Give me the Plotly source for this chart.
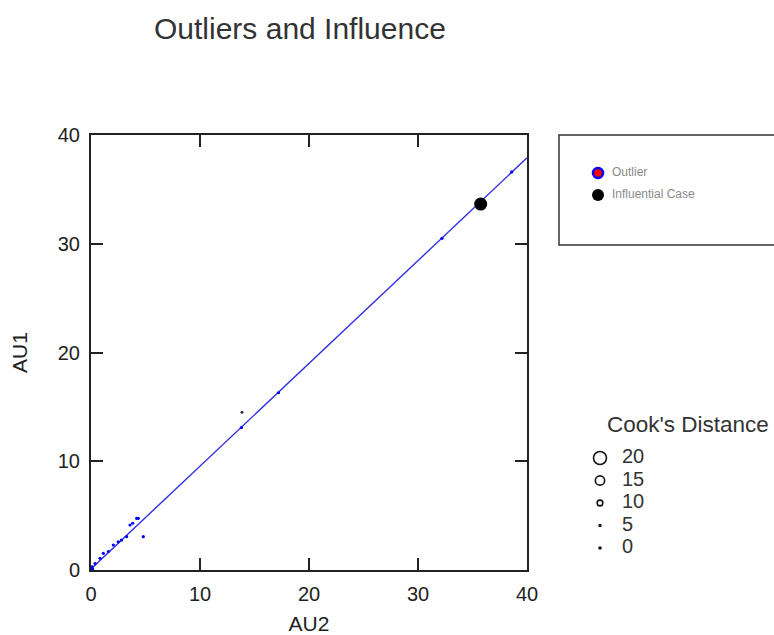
import plotly.graph_objects as go

W, H = 774, 635

# ---- data ----
au2 = [0.05, 0.1, 0.15, 0.37, 0.83, 1.13, 1.6, 2.05, 2.5, 2.8, 3.27, 3.58, 3.82, 4.19, 4.34, 4.8,
       13.8, 17.2, 32.2, 38.6]
au1 = [0.15, 0.3, 0.1, 0.6, 1.07, 1.53, 1.7, 2.3, 2.6, 2.75, 3.06, 4.14, 4.3, 4.75, 4.75, 3.06,
       13.1, 16.3, 30.5, 36.6]
cooks = [0.5, 0.3, 0.2, 0.2, 0.3, 0.2, 0.2, 0.3, 0.2, 0.2, 0.2, 0.5, 0.5, 0.8, 0.8, 1.0,
         0.1, 0.1, 0.1, 0.1]

other_x = [13.85]
other_y = [14.5]
other_cooks = [1.0]

influential_x = [35.75]
influential_y = [33.65]
influential_cooks = [20]

fit_intercept = 0.1
fit_slope = 0.945
fit_x = [0, 40]

key_values = [20, 15, 10, 5, 0]
key_labels = ["20", "15", "10", "5", "0"]
legend_labels = ["Outlier", "Influential Case"]

axis_ticks = [0, 10, 20, 30, 40]


def size_px(c, floor=2.0):
    return max(floor, 2.0 + (c - 5) * 11.0 / 15.0)


fit_y = [fit_intercept + fit_slope * v for v in fit_x]

# ---- layout geometry (pixels) ----
PL, PR, PT, PB = 91, 527, 135, 570


def px_x(p):
    return p / W


def px_y(p):
    return (H - p) / H


fig = go.Figure()

fig.add_trace(go.Scatter(x=fit_x, y=fit_y, mode="lines",
                         line=dict(color="#3030e0", width=1.4), showlegend=False,
                         hoverinfo="skip"))
fig.add_trace(go.Scatter(x=au2, y=au1, mode="markers",
                         marker=dict(color="#0000ff", opacity=1,
                                     size=[size_px(c, 3.2) for c in cooks],
                                     line=dict(width=0)),
                         showlegend=False))
fig.add_trace(go.Scatter(x=other_x, y=other_y, mode="markers",
                         marker=dict(color="#333333", opacity=1,
                                     size=[size_px(c, 3.0) for c in other_cooks],
                                     line=dict(width=0)),
                         showlegend=False))
fig.add_trace(go.Scatter(x=influential_x, y=influential_y, mode="markers",
                         marker=dict(color="#000000", opacity=1,
                                     size=[size_px(c) for c in influential_cooks],
                                     line=dict(width=0)),
                         showlegend=False))

# Cook's distance key (axis 2: y in Cook's distance units)
fig.add_trace(go.Scatter(x=[15] * len(key_values), y=key_values, mode="markers",
                         marker=dict(symbol="circle-open", color="#111111", opacity=1,
                                     size=[size_px(v) for v in key_values],
                                     line=dict(width=1.6, color="#111111")),
                         xaxis="x2", yaxis="y2", showlegend=False, hoverinfo="skip"))
fig.add_trace(go.Scatter(x=[37] * len(key_values), y=key_values, mode="text",
                         text=key_labels, textposition="middle right",
                         textfont=dict(family="Liberation Sans, Arial", size=20, color="#333333"),
                         xaxis="x2", yaxis="y2", showlegend=False, hoverinfo="skip"))

# Outlier / influential legend (axis 3: categorical)
fig.add_trace(go.Scatter(x=[13], y=[legend_labels[0]], mode="markers",
                         marker=dict(color="#ff0000", size=10, opacity=1,
                                     line=dict(color="#0000ff", width=2.5)),
                         xaxis="x3", yaxis="y3", showlegend=False, hoverinfo="skip"))
fig.add_trace(go.Scatter(x=[13], y=[legend_labels[1]], mode="markers",
                         marker=dict(color="#000000", size=12, opacity=1, line=dict(width=0)),
                         xaxis="x3", yaxis="y3", showlegend=False, hoverinfo="skip"))
fig.add_trace(go.Scatter(x=[27, 27], y=legend_labels, mode="text",
                         text=legend_labels, textposition="middle right",
                         textfont=dict(family="Liberation Sans, Arial", size=12, color="#8a8a8a"),
                         xaxis="x3", yaxis="y3", showlegend=False, hoverinfo="skip"))

font_main = "Liberation Sans, Arial, sans-serif"
axis_common = dict(range=[0, 40], tickvals=axis_ticks, ticks="inside", ticklen=12,
                   tickwidth=2, tickcolor="#222222", showline=True, linecolor="#222222",
                   linewidth=2, mirror="ticks", showgrid=False, zeroline=False,
                   tickfont=dict(size=20, color="#222222", family=font_main),
                   automargin=False)

fig.update_layout(
    width=W, height=H,
    margin=dict(l=0, r=0, t=0, b=0),
    paper_bgcolor="white", plot_bgcolor="white",
    font=dict(family=font_main, color="#222222"),
    showlegend=False,
    xaxis=dict(domain=[px_x(PL), px_x(PR)], anchor="y", ticklabelstandoff=5,
               title=dict(text="AU2", font=dict(size=21, color="#222222"), standoff=14),
               **axis_common),
    yaxis=dict(domain=[px_y(PB), px_y(PT)], anchor="x", ticklabelstandoff=5,
               title=dict(text="AU1", font=dict(size=21, color="#222222"), standoff=24),
               **axis_common),
    xaxis2=dict(domain=[px_x(585), 1.0], range=[0, 189], visible=False, anchor="y2"),
    yaxis2=dict(domain=[px_y(570), px_y(440)], range=[-22 / 4.5, 20 + 18 / 4.5],
                visible=False, anchor="x2"),
    xaxis3=dict(domain=[px_x(585), 1.0], range=[0, 189], visible=False, anchor="y3"),
    yaxis3=dict(domain=[px_y(206), px_y(162)], range=[1.5, -0.5], type="category",
                categoryorder="array", categoryarray=legend_labels,
                visible=False, anchor="x3"),
    shapes=[dict(type="rect", xref="paper", yref="paper",
                 x0=px_x(559), x1=px_x(800), y0=px_y(245), y1=px_y(135),
                 line=dict(color="#333333", width=1.5), fillcolor="rgba(0,0,0,0)")],
    annotations=[
        dict(text="Outliers and Influence", x=px_x(300), y=px_y(28), xref="paper", yref="paper",
             xanchor="center", yanchor="middle", showarrow=False,
             font=dict(size=30, color="#333333", family=font_main)),
        dict(text="Cook's Distance", x=px_x(688), y=px_y(424), xref="paper", yref="paper",
             xanchor="center", yanchor="middle", showarrow=False,
             font=dict(size=22.5, color="#333333", family=font_main)),
    ],
)

fig.write_html("out.html")
